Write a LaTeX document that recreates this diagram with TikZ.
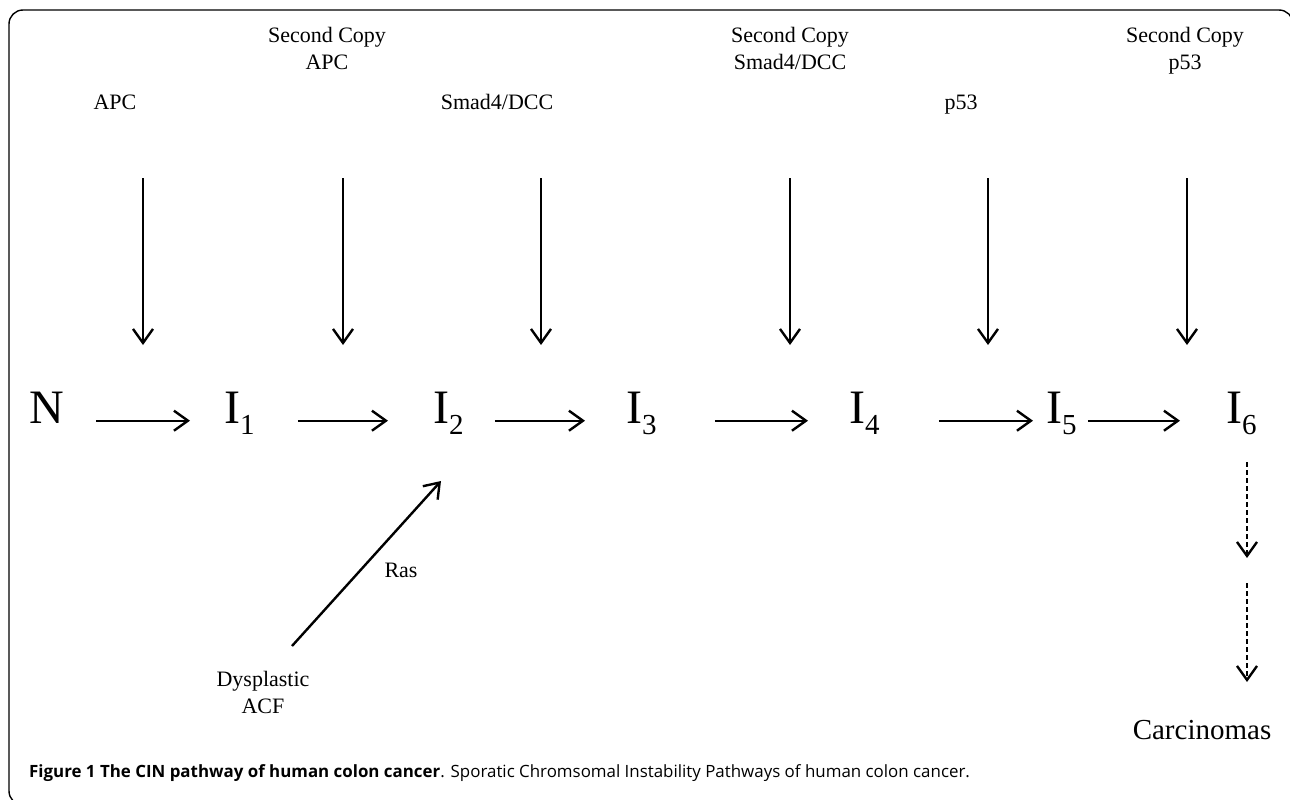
\documentclass[tikz,border=0pt]{standalone}
\usepackage{fontspec}
\setmainfont{Liberation Serif}
\newfontfamily\capfont{Open Sans}
\usetikzlibrary{arrows.meta}
\newcommand{\stagename}[1]{I\raisebox{-11pt}{\fontsize{29}{29}\selectfont #1}}

\begin{document}
\begin{tikzpicture}[x=1pt,y=-1pt,line width=2.4pt,
  >={Straight Barb[length=14pt,width=20pt]},
  stage/.style={inner sep=0pt,anchor=base west,font=\fontsize{48}{48}\selectfont},
  gene/.style={inner sep=0pt,align=center,font=\fontsize{22}{27}\selectfont}]
\useasboundingbox (0,0) rectangle (1290,800);
% frame round the figure:
\draw[line width=1.4pt,rounded corners=14pt] (60,805) -- (9,805) -- (9,10) -- (1293,10) -- (1293,60);
% stages of the pathway:
\node[stage] (n) at (28,423) {N};
\node[stage] (i1) at (223,423) {\stagename{1}};
\node[stage] (i2) at (432,423) {\stagename{2}};
\node[stage] (i3) at (625,423) {\stagename{3}};
\node[stage] (i4) at (848,423) {\stagename{4}};
\node[stage] (i5) at (1045,423) {\stagename{5}};
\node[stage] (i6) at (1225,423) {\stagename{6}};
\foreach \a/\b/\s/\e in {n/i1/31/33, i1/i2/42/44, i2/i3/30/40, i3/i4/57/40, i4/i5/58/12, i5/i6/10/45}
  \draw[->,shorten <=\s pt,shorten >=\e pt] (\a.mid east) -- (\b.mid west);
% mutations from above:
\node[gene] (apc) at (115,102) {APC};
\node[gene] (apc2) at (327,48) {Second Copy\\APC};
\node[gene] (smad) at (497,102) {Smad4/DCC};
\node[gene] (smad2) at (790,48) {Second Copy\\Smad4/DCC};
\node[gene] (p) at (961,104.4) {p53};
\node[gene] (p2) at (1185,50.4) {Second Copy\\p53};
\foreach \x [count=\i] in {143,343,541,790,988,1187} {
  \coordinate (src\i) at (\x,178);
  \coordinate (hit\i) at (\x,345);
  \draw[->] (src\i) -- (hit\i);
}
% Ras branch:
\node[gene] (acf) at (263,692) {Dysplastic\\ACF};
\node[gene] (ras) at (401,570) {Ras};
\coordinate (rasfoot) at (292,646);
\coordinate (rastip) at (441,481);
\draw[->] (rasfoot) -- (rastip);
% towards carcinomas:
\node[inner sep=0pt,font=\fontsize{29}{29}\selectfont] (carc) at (1202,730) {Carcinomas};
\coordinate (d0) at (1247,462);
\coordinate (d1) at (1247,558);
\coordinate (d2) at (1247,583);
\coordinate (d3) at (1247,682);
\draw[->,dash pattern=on 5pt off 3pt] (d0) -- (d1);
\draw[->,dash pattern=on 5pt off 3pt] (d2) -- (d3);
% caption:
\node[inner sep=0pt,anchor=base west,font=\capfont\fontsize{16.9}{20}\selectfont] (cap) at (28,777)
  {\textbf{Figure 1 The CIN pathway of human colon cancer}. Sporatic Chromsomal Instability Pathways of human colon cancer.};
\end{tikzpicture}
\end{document}
